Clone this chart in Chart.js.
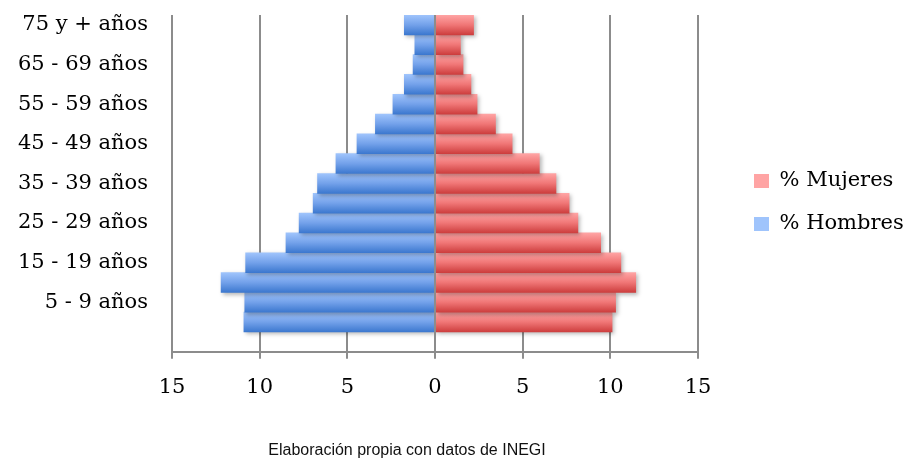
<!DOCTYPE html>
<html lang="es">
<head>
<meta charset="utf-8">
<title>Pirámide de población</title>
<script src="https://cdn.jsdelivr.net/npm/chart.js@4/dist/chart.umd.min.js"></script>
<style>
  body { margin: 0; background: #fff; }
  #wrap { position: relative; width: 907px; height: 459px; }
  #fuente {
    position: absolute; left: 0; top: 441px; width: 814px;
    text-align: center; font: 16px "Liberation Sans", Arial, sans-serif; color: #111;
  }
</style>
</head>
<body>
<div id="wrap">
  <canvas id="piramide"></canvas>
  <div id="fuente">Elaboración propia con datos de INEGI</div>
</div>
<script>
// Grupos de edad (de abajo hacia arriba); el primero es una fila vacía
const grupos = ['', '0 - 4 años', '5 - 9 años', '10 - 14 años', '15 - 19 años', '20 - 24 años',
  '25 - 29 años', '30 - 34 años', '35 - 39 años', '40 - 44 años', '45 - 49 años',
  '50 - 54 años', '55 - 59 años', '60 - 64 años', '65 - 69 años', '70 - 74 años', '75 y + años'];

// Porcentajes por sexo
const hombres = [null, 10.9, 10.85, 12.2, 10.8, 8.5, 7.75, 6.95, 6.7, 5.65, 4.45, 3.4, 2.4, 1.75, 1.25, 1.15, 1.75];
const mujeres = [null, 10.1, 10.3, 11.45, 10.6, 9.45, 8.15, 7.65, 6.9, 5.95, 4.4, 3.45, 2.4, 2.05, 1.6, 1.45, 2.2];

const marcasX = [-15, -10, -5, 0, 5, 10, 15];

const gris = '#8c8c8c';
Chart.defaults.font.family = '"DejaVu Serif", serif';
Chart.defaults.font.size = 21;
Chart.defaults.color = '#000';

// degradado vertical por barra (claro arriba, oscuro abajo)
function relleno(claro, medio, oscuro) {
  return (ctx) => {
    const chart = ctx.chart;
    if (ctx.type !== 'data' || !chart.chartArea) return medio;
    const y = chart.scales.y;
    const c = y.getPixelForValue(ctx.dataIndex);
    const mitad = Math.abs(y.getPixelForTick(1) - y.getPixelForTick(0)) / 2;
    const g = chart.ctx.createLinearGradient(0, c - mitad, 0, c + mitad);
    g.addColorStop(0, claro);
    g.addColorStop(0.5, medio);
    g.addColorStop(1, oscuro);
    return g;
  };
}

// sombra suave de las barras y eje vertical en el cero
const sombraYEje = {
  id: 'sombraYEje',
  beforeDatasetsDraw(chart) {
    const c = chart.ctx;
    c.save();
    c.shadowColor = 'rgba(0,0,0,0.28)';
    c.shadowBlur = 4;
    c.shadowOffsetX = 2;
    c.shadowOffsetY = 2;
  },
  afterDatasetsDraw(chart) {
    const c = chart.ctx;
    c.restore();
    const x0 = chart.scales.x.getPixelForValue(0);
    c.save();
    c.strokeStyle = gris;
    c.lineWidth = 2;
    c.beginPath();
    c.moveTo(x0, chart.chartArea.top);
    c.lineTo(x0, chart.chartArea.bottom);
    c.stroke();
    c.restore();
  }
};

// leyenda a la derecha con ancho fijo y separada del área de trazado
const leyendaDerecha = {
  id: 'leyendaDerecha',
  beforeLayout(chart) {
    const lg = chart.legend;
    if (lg && !lg._anchoFijo) {
      const fit = lg.fit;
      lg.fit = function () {
        fit.call(this);
        this.width = 209;
      };
      lg._anchoFijo = true;
    }
  },
  afterLayout(chart) {
    const lg = chart.legend;
    lg.left = 732;
    lg.top -= 13;
    lg.bottom -= 13;
  }
};

new Chart(document.getElementById('piramide'), {
  type: 'bar',
  data: {
    labels: grupos,
    datasets: [
      {
        label: '% Mujeres',
        data: mujeres,
        backgroundColor: relleno('#ffa4a4', '#f07676', '#cd3e3e'),
        borderWidth: 0
      },
      {
        label: '% Hombres',
        data: hombres.map(v => v == null ? null : -v),
        backgroundColor: relleno('#9fc4fc', '#73a1ea', '#3c78cf'),
        borderWidth: 0
      }
    ]
  },
  options: {
    indexAxis: 'y',
    responsive: true,
    maintainAspectRatio: false,
    animation: false,
    barPercentage: 1,
    categoryPercentage: 1,
    layout: { padding: { top: 15, bottom: 43, left: 0, right: 0 } },
    plugins: {
      tooltip: { enabled: false },
      legend: {
        position: 'right',
        labels: { boxWidth: 15, boxHeight: 14, padding: 22, color: '#000' }
      }
    },
    scales: {
      x: {
        stacked: true,
        min: -15,
        max: 15,
        afterBuildTicks: (scale) => { scale.ticks = marcasX.map(v => ({ value: v })); },
        ticks: { callback: (v) => Math.abs(v), padding: 16, maxRotation: 0 },
        grid: { color: gris, lineWidth: 2, tickLength: 7 },
        border: { display: true, color: gris, width: 2 }
      },
      y: {
        stacked: true,
        reverse: true,
        afterFit: (scale) => {
          scale.width = 172;
          scale.paddingTop = 0;
          scale.paddingBottom = 0;
        },
        grid: { display: false, drawTicks: false },
        border: { display: false },
        ticks: {
          autoSkip: false,
          padding: 24,
          callback: function (v, i) { return i % 2 === 0 ? this.getLabelForValue(v) : ''; }
        }
      }
    }
  },
  plugins: [sombraYEje, leyendaDerecha]
});
</script>
</body>
</html>
